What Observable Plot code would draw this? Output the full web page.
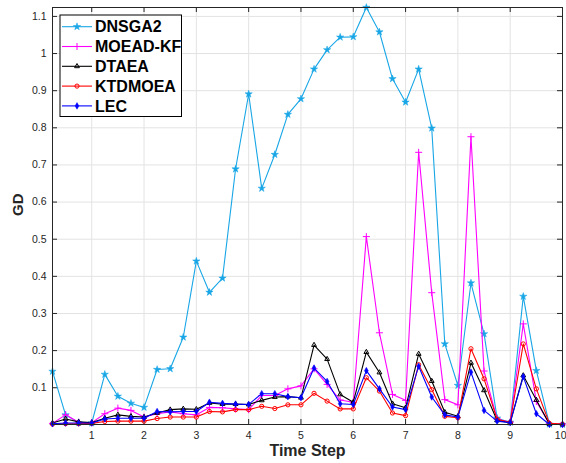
<!DOCTYPE html>
<html><head><meta charset="utf-8">
<script src="https://cdn.jsdelivr.net/npm/d3@7"></script>
<script src="https://cdn.jsdelivr.net/npm/@observablehq/plot@0.6"></script>
<style>
body{margin:0;background:#fff;}
#chart{position:relative;width:566px;height:463px;}
</style>
</head><body><div id="chart"></div>
<script>
const timeSteps = [0.25,0.5,0.75,1,1.25,1.5,1.75,2,2.25,2.5,2.75,3,3.25,3.5,3.75,4,4.25,4.5,4.75,5,5.25,5.5,5.75,6,6.25,6.5,6.75,7,7.25,7.5,7.75,8,8.25,8.5,8.75,9,9.25,9.5,9.75,10];
const DNSGA2  = [0.144,0.027,0.006,0.005,0.136,0.077,0.058,0.047,0.149,0.151,0.236,0.441,0.357,0.395,0.689,0.891,0.637,0.728,0.836,0.878,0.958,1.010,1.044,1.045,1.124,1.058,0.932,0.869,0.958,0.799,0.218,0.106,0.382,0.245,0.018,0.007,0.346,0.146,0.002,0.001];
const MOEADKF = [0.004,0.027,0.007,0.006,0.030,0.045,0.039,0.021,0.030,0.035,0.030,0.027,0.047,0.046,0.043,0.041,0.079,0.079,0.097,0.105,0.151,0.109,0.067,0.061,0.507,0.248,0.082,0.066,0.734,0.356,0.068,0.054,0.776,0.145,0.016,0.007,0.272,0.063,0.003,0.002];
const DTAEA   = [0.005,0.016,0.008,0.006,0.018,0.027,0.023,0.021,0.032,0.041,0.043,0.042,0.059,0.056,0.056,0.055,0.066,0.075,0.076,0.073,0.215,0.177,0.082,0.061,0.196,0.141,0.057,0.046,0.191,0.118,0.034,0.023,0.167,0.093,0.012,0.006,0.133,0.067,0.002,0.001];
const KTDMOEA = [0.002,0.003,0.003,0.004,0.009,0.010,0.010,0.010,0.017,0.021,0.021,0.021,0.036,0.035,0.041,0.041,0.050,0.044,0.054,0.054,0.085,0.064,0.043,0.043,0.127,0.091,0.032,0.025,0.162,0.095,0.023,0.019,0.205,0.124,0.015,0.007,0.218,0.097,0.004,0.002];
const LEC     = [0.003,0.005,0.005,0.005,0.016,0.018,0.018,0.018,0.036,0.035,0.036,0.036,0.061,0.058,0.056,0.055,0.084,0.084,0.076,0.073,0.153,0.117,0.057,0.055,0.146,0.097,0.048,0.041,0.158,0.075,0.027,0.021,0.142,0.039,0.010,0.006,0.130,0.030,0.001,0.001];

const seriesNames   = ["DNSGA2","MOEAD-KF","DTAEA","KTDMOEA","LEC"];
const seriesColors  = ["#18a6e6","#ff00ff","#000000","#ff0000","#0000ff"];
const seriesSymbols = ["star","plus","triangle2","circle","diamond"];
const seriesFilled  = [true,false,false,false,true];
const seriesR       = [2.3,2.4,2.3,2.1,2.0];
const xTicks = [1,2,3,4,5,6,7,8,9,10];
const yTicks = [0.1,0.2,0.3,0.4,0.5,0.6,0.7,0.8,0.9,1,1.1];
const xLabel = "Time Step";
const yLabel = "GD";

const values = [DNSGA2, MOEADKF, DTAEA, KTDMOEA, LEC];
const rows = seriesNames.map((name,i) => timeSteps.map((t,j) => ({series:name, t, gd: values[i][j]})));

const W = 566, H = 463, mL = 52, mR = 4, mT = 7, mB = 39;
const pw = W - mL - mR, ph = H - mT - mB;
const font = "'Liberation Sans', Arial, Helvetica, sans-serif";

const marks = [
  Plot.gridX(xTicks, {stroke:"#e3e3e3", strokeOpacity:1, strokeWidth:1}),
  Plot.gridY(yTicks, {stroke:"#e3e3e3", strokeOpacity:1, strokeWidth:1}),
  Plot.tickX(xTicks, {x: d=>d, stroke:"#262626", insetTop: ph-5}),
  Plot.tickX(xTicks, {x: d=>d, stroke:"#262626", insetBottom: ph-5}),
  Plot.tickY(yTicks, {y: d=>d, stroke:"#262626", insetRight: pw-5}),
  Plot.tickY(yTicks, {y: d=>d, stroke:"#262626", insetLeft: pw-5}),
  Plot.axisX(xTicks.slice(0,-1), {tickSize:0, tickPadding:7, tickFormat: d=>String(d), fill:"#262626", fontSize:10.5, label:null}),
  Plot.axisX(xTicks.slice(-1), {tickSize:0, tickPadding:7, tickFormat: d=>String(d), fill:"#262626", fontSize:10.5, label:null, textAnchor:"end", dx:4}),
  Plot.axisY(yTicks, {tickSize:0, tickPadding:6, tickFormat: d=>String(+d.toFixed(1)), fill:"#262626", fontSize:10.5, label:null}),
];
rows.forEach((data,i) => {
  marks.push(Plot.line(data, {x:"t", y:"gd", stroke: seriesColors[i], strokeWidth:1.1}));
  marks.push(Plot.dot(data, {x:"t", y:"gd", symbol: seriesSymbols[i], r: seriesR[i],
    fill: seriesFilled[i] ? seriesColors[i] : "none", stroke: seriesColors[i], strokeWidth: seriesFilled[i] ? 0.5 : 1}));
});
marks.push(Plot.frame({stroke:"#262626", strokeWidth:1}));
marks.push(Plot.text([xLabel], {text: d=>d, frameAnchor:"bottom", dy:31, fontSize:16, fontWeight:"bold", fill:"#262626"}));
marks.push(Plot.text([yLabel], {text: d=>d, frameAnchor:"left", dx:-34, rotate:-90, fontSize:15, fontWeight:"bold", fill:"#262626"}));

const chart = Plot.plot({
  width: W, height: H,
  marginLeft: mL, marginRight: mR, marginTop: mT, marginBottom: mB,
  x: {domain:[0.25,10]},
  y: {domain:[0.001,1.124]},
  style: {fontFamily: font, fontSize:"10.5px", background:"#fff", color:"#262626", overflow:"visible"},
  marks
});
document.getElementById("chart").appendChild(chart);

// legend
const svg = d3.select(chart);
const lg = svg.append("g").attr("font-family", font).attr("text-anchor","start");
const bx = 60, by = 15, bw = 121.5, bh = 101.5;
lg.append("rect").attr("x",bx).attr("y",by).attr("width",bw).attr("height",bh)
  .attr("fill","#fff").attr("stroke","#000").attr("stroke-width",1);
const symMap = {star:d3.symbolStar, plus:d3.symbolPlus, triangle2:d3.symbolTriangle2, circle:d3.symbolCircle, diamond:d3.symbolDiamond};
seriesNames.forEach((name,i) => {
  const cy = by + 11.7 + i*19.8;
  lg.append("line").attr("x1",bx+2).attr("x2",bx+32).attr("y1",cy).attr("y2",cy)
    .attr("stroke",seriesColors[i]).attr("stroke-width",1.1);
  lg.append("path").attr("transform",`translate(${bx+17},${cy})`)
    .attr("d", d3.symbol(symMap[seriesSymbols[i]], seriesR[i]*seriesR[i]*Math.PI)())
    .attr("fill", seriesFilled[i] ? seriesColors[i] : "none")
    .attr("stroke", seriesColors[i]).attr("stroke-width", seriesFilled[i] ? 0.5 : 1);
  lg.append("text").attr("x",bx+35).attr("y",cy).attr("dy","0.36em").attr("text-anchor","start")
    .attr("font-size",16).attr("font-weight","bold").attr("fill","#000").text(name);
});
</script>
</body></html>
